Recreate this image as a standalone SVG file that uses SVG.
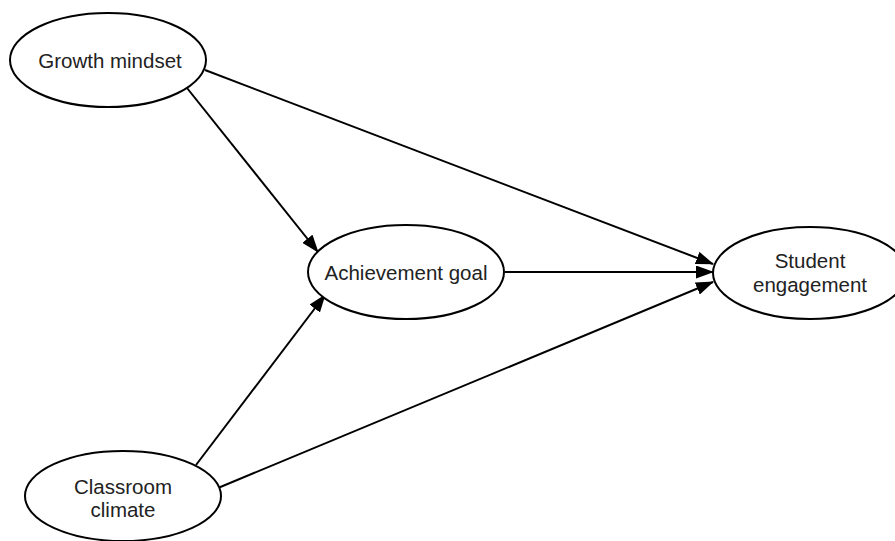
<svg xmlns="http://www.w3.org/2000/svg" width="895" height="541" viewBox="0 0 895 541">
<style>
.node ellipse{fill:#fff;stroke:#000;stroke-width:2}
.node text{font-family:"Liberation Sans",Arial,sans-serif;font-size:20.5px;fill:#222;text-anchor:middle}
#edges line{stroke:#000;stroke-width:2;marker-end:url(#arr)}
</style>
<defs>
<marker id="arr" viewBox="0 0 18 13" refX="17" refY="6.5" markerWidth="18" markerHeight="13" markerUnits="userSpaceOnUse" orient="auto">
<path d="M0,0 L18,6.5 L0,13 z" fill="#000"/>
</marker>
</defs>
<rect width="895" height="541" fill="#fff"/>
<g id="edges">
<line x1="187" y1="88" x2="318" y2="252"/>
<line x1="205" y1="70" x2="713" y2="264"/>
<line x1="505" y1="272" x2="713" y2="272"/>
<line x1="196" y1="465" x2="325" y2="295"/>
<line x1="218" y1="488" x2="713" y2="282"/>
</g>
<g id="growth" class="node">
<ellipse cx="108" cy="60" rx="98" ry="47"/>
<text x="110" y="68">Growth mindset</text>
</g>
<g id="achievement" class="node">
<ellipse cx="406" cy="272" rx="98" ry="47"/>
<text x="406" y="280">Achievement goal</text>
</g>
<g id="engagement" class="node">
<ellipse cx="810" cy="273" rx="97" ry="46"/>
<text x="810" y="268">Student</text>
<text x="810" y="292">engagement</text>
</g>
<g id="climate" class="node">
<ellipse cx="123" cy="496" rx="98" ry="45"/>
<text x="123" y="494">Classroom</text>
<text x="123" y="517">climate</text>
</g>
</svg>
